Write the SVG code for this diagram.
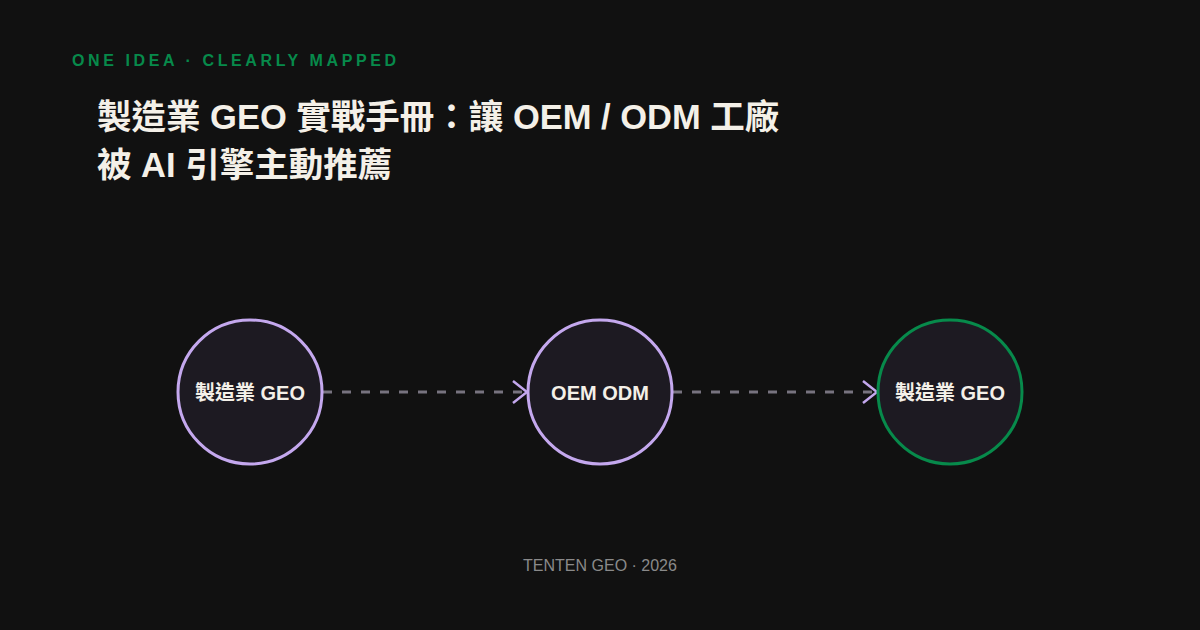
<svg xmlns="http://www.w3.org/2000/svg" width="1200" height="630" viewBox="0 0 1200 630">
<style>
.kick{font-family:"Liberation Sans","Noto Sans CJK TC",sans-serif;font-weight:700;font-size:16px;letter-spacing:3.6px;fill:#078a4b}
.title{font-family:"Liberation Sans","Noto Sans CJK TC",sans-serif;font-weight:700;font-size:34.5px;fill:#f4f0e8}
.node circle{fill:#1d1a22;stroke-width:3}
.node text{font-family:"Liberation Sans","Noto Sans CJK TC",sans-serif;font-weight:700;font-size:20px;fill:#f4f0e8;text-anchor:middle;dominant-baseline:central}
.edge{stroke:#77737f;stroke-width:3;stroke-dasharray:9 10;fill:none}
.foot{font-family:"Liberation Sans","Noto Sans CJK TC",sans-serif;font-size:16px;fill:#8a8a8a;text-anchor:middle}
</style>
<defs>
<marker id="arr" viewBox="0 0 16 24" refX="15" refY="12" markerWidth="16" markerHeight="24" markerUnits="userSpaceOnUse" orient="auto">
<path d="M1,1 L15,12 L1,23" fill="none" stroke="#c4a8ee" stroke-width="2.5"/>
</marker>
</defs>
<rect width="1200" height="630" fill="#111111"/>
<text class="kick" x="72" y="66">ONE IDEA · CLEARLY MAPPED</text>
<text class="title" x="97" y="129">製造業 GEO 實戰手冊：讓 OEM / ODM 工廠</text>
<text class="title" x="97" y="177">被 AI 引擎主動推薦</text>
<g id="connectors">
<path class="edge" d="M323,392 L527,392" marker-end="url(#arr)"/>
<path class="edge" d="M673,392 L877,392" marker-end="url(#arr)"/>
</g>
<g id="node1" class="node"><circle cx="250" cy="392" r="72" stroke="#c4a8ee"/><text x="250" y="393">製造業 GEO</text></g>
<g id="node2" class="node"><circle cx="600" cy="392" r="72" stroke="#c4a8ee"/><text x="600" y="393">OEM ODM</text></g>
<g id="node3" class="node"><circle cx="950" cy="392" r="72" stroke="#078a4b"/><text x="950" y="393">製造業 GEO</text></g>
<text class="foot" x="600" y="571">TENTEN GEO · 2026</text>
</svg>
